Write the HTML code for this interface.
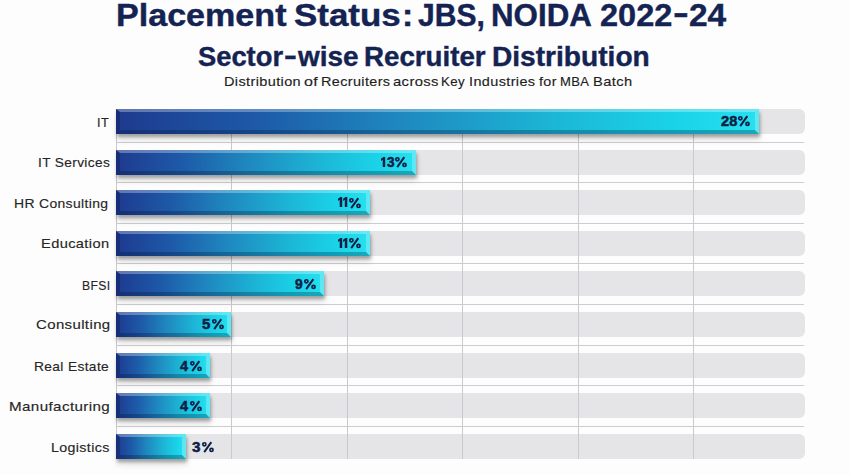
<!DOCTYPE html>
<html><head><meta charset="utf-8"><style>
html,body{margin:0;padding:0;}
body{width:850px;height:475px;position:relative;overflow:hidden;background:#fdfdfd;font-family:"Liberation Sans",sans-serif;}
.tx{position:absolute;height:60px;line-height:60px;white-space:nowrap;transform-origin:0 0;}
.track{position:absolute;left:116px;width:688.5px;height:25px;background:#e5e5e8;border-radius:0 6px 6px 0;}
.vg{position:absolute;top:109.4px;height:350px;width:1px;background:#c9c9ce;}
.hs{position:absolute;left:116px;width:688px;height:1px;background:#cdcdd0;}
.pc{position:absolute;overflow:visible;fill:none;stroke:#0f1f45;stroke-width:1.7px;}
.pc path{stroke-width:2px;}
.one{position:absolute;fill:#0f1f45;}
.bar{position:absolute;left:116px;height:25px;box-sizing:border-box;border-style:solid;border-width:3.5px 4px 4px 4px;border-color:rgba(255,255,255,0.3) rgba(255,255,255,0.25) rgba(0,20,50,0.28) rgba(0,0,40,0.22);background:linear-gradient(90deg,#1e3a8f 0%,#1d5aa8 22%,#1f84bd 42%,#1cb6d6 68%,#1ad3e8 87%,#27e0ef 100%);background-origin:border-box;box-shadow:1px 3px 3px rgba(0,0,0,0.28),1px 6px 6px rgba(0,0,0,0.12);}
</style></head><body>
<div class="track" style="top:109.00px"></div>
<div class="track" style="top:150.00px"></div>
<div class="track" style="top:190.00px"></div>
<div class="track" style="top:231.00px"></div>
<div class="track" style="top:271.00px"></div>
<div class="track" style="top:312.00px"></div>
<div class="track" style="top:353.00px"></div>
<div class="track" style="top:393.00px"></div>
<div class="track" style="top:434.00px"></div>
<div class="vg" style="left:115.5px"></div>
<div class="vg" style="left:231.0px"></div>
<div class="vg" style="left:346.5px"></div>
<div class="vg" style="left:462.0px"></div>
<div class="vg" style="left:577.5px"></div>
<div class="vg" style="left:693.0px"></div>
<div class="hs" style="top:142px"></div>
<div class="hs" style="top:182px"></div>
<div class="hs" style="top:223px"></div>
<div class="hs" style="top:263px"></div>
<div class="hs" style="top:304px"></div>
<div class="hs" style="top:345px"></div>
<div class="hs" style="top:385px"></div>
<div class="hs" style="top:426px"></div>
<div class="bar" style="top:109.00px;width:643.20px"></div>
<div class="bar" style="top:150.00px;width:300.00px"></div>
<div class="bar" style="top:190.00px;width:254.40px"></div>
<div class="bar" style="top:231.00px;width:254.40px"></div>
<div class="bar" style="top:271.00px;width:207.80px"></div>
<div class="bar" style="top:312.00px;width:115.40px"></div>
<div class="bar" style="top:353.00px;width:93.50px"></div>
<div class="bar" style="top:393.00px;width:93.50px"></div>
<div class="bar" style="top:434.00px;width:69.80px"></div>
<div class="tx" style="left:115.80px;top:-14.10px;font-size:31px;font-weight:bold;color:#142352;-webkit-text-stroke:0.4px #142352;transform:scaleX(1.0993)">Placement</div>
<div class="tx" style="left:294.07px;top:-14.10px;font-size:31px;font-weight:bold;color:#142352;-webkit-text-stroke:0.4px #142352;transform:scaleX(1.1269)">Status</div>
<div class="tx" style="left:402.36px;top:-14.10px;font-size:31px;font-weight:bold;color:#142352;-webkit-text-stroke:0.4px #142352;transform:scaleX(1.0800)">:</div>
<div class="tx" style="left:418.43px;top:-14.10px;font-size:31px;font-weight:bold;color:#142352;-webkit-text-stroke:0.4px #142352;transform:scaleX(0.9697)">JBS,</div>
<div class="tx" style="left:490.78px;top:-14.10px;font-size:31px;font-weight:bold;color:#142352;-webkit-text-stroke:0.4px #142352;transform:scaleX(1.0093)">NOIDA</div>
<div class="tx" style="left:599.75px;top:-14.10px;font-size:31px;font-weight:bold;color:#142352;-webkit-text-stroke:0.4px #142352;transform:scaleX(1.0493)">2022</div>
<div class="tx" style="left:673.48px;top:-16.70px;font-size:31px;font-weight:bold;color:#142352;-webkit-text-stroke:0.4px #142352;transform:scaleX(1.5250)">-</div>
<div class="tx" style="left:689.12px;top:-14.10px;font-size:31px;font-weight:bold;color:#142352;-webkit-text-stroke:0.4px #142352;transform:scaleX(1.0794)">24</div>
<div class="tx" style="left:197.99px;top:27.20px;font-size:27px;font-weight:bold;color:#142352;-webkit-text-stroke:0.4px #142352;transform:scaleX(1.0120)">Sector</div>
<div class="tx" style="left:283.57px;top:25.70px;font-size:27px;font-weight:bold;color:#142352;-webkit-text-stroke:0.4px #142352;transform:scaleX(1.4286)">-</div>
<div class="tx" style="left:298.00px;top:27.20px;font-size:27px;font-weight:bold;color:#142352;-webkit-text-stroke:0.4px #142352;transform:scaleX(1.0345)">wise</div>
<div class="tx" style="left:364.45px;top:27.20px;font-size:27px;font-weight:bold;color:#142352;-webkit-text-stroke:0.4px #142352;transform:scaleX(1.0259)">Recruiter</div>
<div class="tx" style="left:491.92px;top:27.20px;font-size:27px;font-weight:bold;color:#142352;-webkit-text-stroke:0.4px #142352;transform:scaleX(1.0412)">Distribution</div>
<div class="tx" style="left:224.23px;top:52.40px;font-size:13.5px;font-weight:normal;color:#1e1e1e;-webkit-text-stroke:0.15px #1e1e1e;letter-spacing:0.35px;transform:scaleX(1.0743)">Distribution</div>
<div class="tx" style="left:303.51px;top:52.40px;font-size:13.5px;font-weight:normal;color:#1e1e1e;-webkit-text-stroke:0.15px #1e1e1e;letter-spacing:0.35px;transform:scaleX(1.1909)">of</div>
<div class="tx" style="left:321.03px;top:52.40px;font-size:13.5px;font-weight:normal;color:#1e1e1e;-webkit-text-stroke:0.15px #1e1e1e;letter-spacing:0.35px;transform:scaleX(1.0683)">Recruiters</div>
<div class="tx" style="left:392.50px;top:52.40px;font-size:13.5px;font-weight:normal;color:#1e1e1e;-webkit-text-stroke:0.15px #1e1e1e;letter-spacing:0.35px;transform:scaleX(1.0950)">across</div>
<div class="tx" style="left:441.32px;top:52.40px;font-size:13.5px;font-weight:normal;color:#1e1e1e;-webkit-text-stroke:0.15px #1e1e1e;letter-spacing:0.35px;transform:scaleX(0.9826)">Key</div>
<div class="tx" style="left:468.73px;top:52.40px;font-size:13.5px;font-weight:normal;color:#1e1e1e;-webkit-text-stroke:0.15px #1e1e1e;letter-spacing:0.35px;transform:scaleX(1.0717)">Industries</div>
<div class="tx" style="left:539.40px;top:52.40px;font-size:13.5px;font-weight:normal;color:#1e1e1e;-webkit-text-stroke:0.15px #1e1e1e;letter-spacing:0.35px;transform:scaleX(1.0625)">for</div>
<div class="tx" style="left:560.23px;top:52.40px;font-size:13.5px;font-weight:normal;color:#1e1e1e;-webkit-text-stroke:0.15px #1e1e1e;letter-spacing:0.35px;transform:scaleX(0.9655)">MBA</div>
<div class="tx" style="left:593.41px;top:52.40px;font-size:13.5px;font-weight:normal;color:#1e1e1e;-webkit-text-stroke:0.15px #1e1e1e;letter-spacing:0.35px;transform:scaleX(1.0882)">Batch</div>
<div class="tx" style="left:97.35px;top:93.10px;font-size:13.5px;font-weight:normal;color:#262626;-webkit-text-stroke:0.15px #262626;letter-spacing:0.35px;transform:scaleX(0.9455)">IT</div>
<div class="tx" style="left:37.69px;top:133.40px;font-size:13.5px;font-weight:normal;color:#262626;-webkit-text-stroke:0.15px #262626;letter-spacing:0.35px;transform:scaleX(1.0145)">IT Services</div>
<div class="tx" style="left:14.17px;top:173.80px;font-size:13.5px;font-weight:normal;color:#262626;-webkit-text-stroke:0.15px #262626;letter-spacing:0.35px;transform:scaleX(1.0300)">HR Consulting</div>
<div class="tx" style="left:40.72px;top:214.30px;font-size:13.5px;font-weight:normal;color:#262626;-webkit-text-stroke:0.15px #262626;letter-spacing:0.35px;transform:scaleX(1.0836)">Education</div>
<div class="tx" style="left:81.60px;top:255.50px;font-size:13.5px;font-weight:normal;color:#262626;-webkit-text-stroke:0.15px #262626;letter-spacing:0.35px;transform:scaleX(0.9034)">BFSI</div>
<div class="tx" style="left:35.59px;top:295.00px;font-size:13.5px;font-weight:normal;color:#262626;-webkit-text-stroke:0.15px #262626;letter-spacing:0.35px;transform:scaleX(1.1077)">Consulting</div>
<div class="tx" style="left:34.08px;top:336.60px;font-size:13.5px;font-weight:normal;color:#262626;-webkit-text-stroke:0.15px #262626;letter-spacing:0.35px;transform:scaleX(1.0194)">Real Estate</div>
<div class="tx" style="left:8.58px;top:377.30px;font-size:13.5px;font-weight:normal;color:#262626;-webkit-text-stroke:0.15px #262626;letter-spacing:0.35px;transform:scaleX(1.1227)">Manufacturing</div>
<div class="tx" style="left:50.55px;top:418.20px;font-size:13.5px;font-weight:normal;color:#262626;-webkit-text-stroke:0.15px #262626;letter-spacing:0.35px;transform:scaleX(1.0537)">Logistics</div>
<div class="tx" style="left:720.50px;top:91.10px;font-size:14px;font-weight:bold;color:#0f1f45;-webkit-text-stroke:0.5px #0f1f45;transform:scaleX(1.0467)">28</div>
<div class="tx" style="left:386.90px;top:132.30px;font-size:14px;font-weight:bold;color:#0f1f45;-webkit-text-stroke:0.5px #0f1f45;transform:scaleX(0.9714)">3</div>
<div class="tx" style="left:295.00px;top:253.60px;font-size:14px;font-weight:bold;color:#0f1f45;-webkit-text-stroke:0.5px #0f1f45;transform:scaleX(0.9857)">9</div>
<div class="tx" style="left:201.93px;top:294.40px;font-size:14px;font-weight:bold;color:#0f1f45;-webkit-text-stroke:0.5px #0f1f45;transform:scaleX(1.0714)">5</div>
<div class="tx" style="left:179.90px;top:335.60px;font-size:14px;font-weight:bold;color:#0f1f45;-webkit-text-stroke:0.5px #0f1f45;transform:scaleX(1.0375)">4</div>
<div class="tx" style="left:179.90px;top:376.10px;font-size:14px;font-weight:bold;color:#0f1f45;-webkit-text-stroke:0.5px #0f1f45;transform:scaleX(1.0375)">4</div>
<div class="tx" style="left:192.20px;top:416.80px;font-size:14px;font-weight:bold;color:#0f1f45;-webkit-text-stroke:0.5px #0f1f45;transform:scaleX(1.0857)">3</div>
<svg class="pc" style="left:737.90px;top:116.10px" width="12" height="10.5" viewBox="0 0 12 10.5"><circle cx="2.4" cy="2.3" r="1.55"/><circle cx="9.5" cy="7.9" r="1.55"/><path d="M2.2 10.1L9.3 0.1"/></svg>
<svg class="pc" style="left:394.90px;top:157.30px" width="12" height="10.5" viewBox="0 0 12 10.5"><circle cx="2.4" cy="2.3" r="1.55"/><circle cx="9.5" cy="7.9" r="1.55"/><path d="M2.2 10.1L9.3 0.1"/></svg>
<svg class="pc" style="left:348.90px;top:197.50px" width="12" height="10.5" viewBox="0 0 12 10.5"><circle cx="2.4" cy="2.3" r="1.55"/><circle cx="9.5" cy="7.9" r="1.55"/><path d="M2.2 10.1L9.3 0.1"/></svg>
<svg class="pc" style="left:348.90px;top:238.00px" width="12" height="10.5" viewBox="0 0 12 10.5"><circle cx="2.4" cy="2.3" r="1.55"/><circle cx="9.5" cy="7.9" r="1.55"/><path d="M2.2 10.1L9.3 0.1"/></svg>
<svg class="pc" style="left:303.60px;top:278.60px" width="12" height="10.5" viewBox="0 0 12 10.5"><circle cx="2.4" cy="2.3" r="1.55"/><circle cx="9.5" cy="7.9" r="1.55"/><path d="M2.2 10.1L9.3 0.1"/></svg>
<svg class="pc" style="left:212.20px;top:319.40px" width="12" height="10.5" viewBox="0 0 12 10.5"><circle cx="2.4" cy="2.3" r="1.55"/><circle cx="9.5" cy="7.9" r="1.55"/><path d="M2.2 10.1L9.3 0.1"/></svg>
<svg class="pc" style="left:189.90px;top:360.60px" width="12" height="10.5" viewBox="0 0 12 10.5"><circle cx="2.4" cy="2.3" r="1.55"/><circle cx="9.5" cy="7.9" r="1.55"/><path d="M2.2 10.1L9.3 0.1"/></svg>
<svg class="pc" style="left:189.90px;top:401.10px" width="12" height="10.5" viewBox="0 0 12 10.5"><circle cx="2.4" cy="2.3" r="1.55"/><circle cx="9.5" cy="7.9" r="1.55"/><path d="M2.2 10.1L9.3 0.1"/></svg>
<svg class="pc" style="left:201.50px;top:441.80px" width="12" height="10.5" viewBox="0 0 12 10.5"><circle cx="2.4" cy="2.3" r="1.55"/><circle cx="9.5" cy="7.9" r="1.55"/><path d="M2.2 10.1L9.3 0.1"/></svg>
<svg class="one" style="left:380.60px;top:157.10px" width="10" height="10.2" viewBox="0 0 10 10.2"><path d="M0 1.7L2.4 0L4.2 0L4.2 10.2L1.7 10.2L1.7 2.8L0 3.9Z"/></svg>
<svg class="one" style="left:338.20px;top:197.30px" width="10" height="10.2" viewBox="0 0 10 10.2"><path d="M0 1.7L2.4 0L4.2 0L4.2 10.2L1.7 10.2L1.7 2.8L0 3.9Z"/><g transform="translate(5.1 0)"><path d="M0 1.7L2.4 0L4.2 0L4.2 10.2L1.7 10.2L1.7 2.8L0 3.9Z"/></g></svg>
<svg class="one" style="left:338.20px;top:237.80px" width="10" height="10.2" viewBox="0 0 10 10.2"><path d="M0 1.7L2.4 0L4.2 0L4.2 10.2L1.7 10.2L1.7 2.8L0 3.9Z"/><g transform="translate(5.1 0)"><path d="M0 1.7L2.4 0L4.2 0L4.2 10.2L1.7 10.2L1.7 2.8L0 3.9Z"/></g></svg>
</body></html>
